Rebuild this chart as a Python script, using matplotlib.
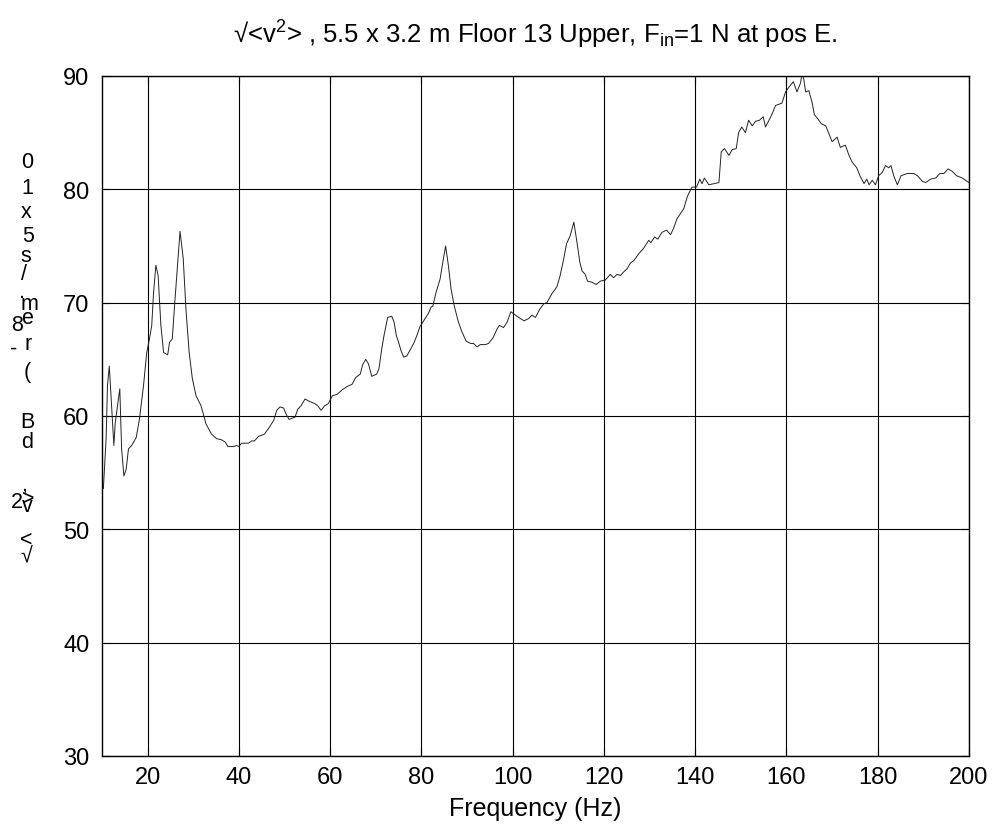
import matplotlib

matplotlib.use("Agg")
import matplotlib.pyplot as plt

plt.rcParams["font.family"] = ["Liberation Sans", "DejaVu Sans"]
plt.rcParams["mathtext.fontset"] = "custom"
plt.rcParams["mathtext.rm"] = "Liberation Sans"
plt.rcParams["mathtext.it"] = "Liberation Sans"

# frequency (Hz) and level (dB)
freq = [10.3, 10.9, 11.2, 11.6, 12.1, 12.6, 12.9, 13.4, 13.9, 14.3, 14.8, 15.3,
        15.8, 16.5, 17.5, 18.2, 19.1, 19.8, 20.4, 20.9, 21.3, 21.8, 22.3, 22.9,
        23.5, 24.4, 24.8, 25.4, 26.0, 27.1, 27.8, 28.4, 29.1, 29.8, 30.6, 31.7,
        32.8, 34.0, 35.1, 36.2, 37.0, 37.6, 38.8, 39.5, 40.0, 40.6, 42.1, 42.8,
        43.4, 44.3, 45.6, 46.5, 47.6, 48.3, 49.0, 49.8, 50.3, 51.0, 52.3, 52.9,
        53.6, 54.5, 55.4, 56.6, 57.3, 58.0, 58.8, 59.6, 60.5, 61.5, 62.6, 63.7,
        64.8, 65.6, 66.6, 67.1, 67.8, 68.4, 69.1, 70.2, 70.7, 71.3, 71.8, 72.6,
        73.5, 74.0, 74.5, 75.0, 75.5, 76.1, 76.8, 77.5, 78.3, 79.0, 79.7, 80.8,
        81.6, 82.1, 82.5, 83.2, 84.1, 84.7, 85.3, 85.9, 86.5, 87.2, 88.1, 88.9,
        89.8, 90.8, 91.4, 92.2, 92.9, 94.0, 94.7, 95.7, 96.6, 97.1, 98.0, 98.8,
        99.6, 100.6, 101.7, 102.5, 103.5, 104.2, 105.0, 105.9, 106.8, 107.5,
        108.6, 109.7, 110.4, 111.2, 111.8, 112.6, 113.4, 114.1, 114.7, 115.2,
        115.9, 116.4, 117.4, 118.3, 119.2, 120.3, 121.4, 122.1, 122.9, 123.6,
        124.3, 125.1, 125.8, 126.5, 127.6, 128.7, 129.8, 130.3, 131.1, 131.8,
        132.7, 133.7, 134.6, 135.3, 136.0, 137.5, 138.3, 139.3, 140.3, 141.0,
        141.5, 142.0, 143.0, 144.1, 145.2, 145.7, 146.4, 147.4, 148.1, 149.0,
        149.5, 150.2, 151.0, 151.7, 152.5, 153.2, 154.1, 154.9, 155.4, 156.3,
        156.9, 157.6, 158.3, 159.0, 159.8, 160.5, 161.5, 162.3, 163.1, 163.4,
        163.8, 164.2, 164.9, 165.6, 166.1, 166.9, 167.6, 168.6, 169.3, 170.0,
        171.1, 171.8, 172.9, 173.7, 174.4, 175.4, 176.1, 177.0, 177.6, 178.1,
        178.8, 179.5, 180.2, 181.0, 181.7, 182.4, 182.9, 183.5, 184.3, 185.1,
        186.5, 187.9, 188.7, 189.8, 190.5, 191.6, 192.7, 193.6, 194.5, 195.4,
        196.3, 197.3, 198.5, 200.0]
level = [53.6, 58.0, 62.7, 64.4, 60.9, 57.4, 59.4, 60.9, 62.4, 57.1, 54.7, 55.3,
         57.1, 57.4, 58.1, 59.7, 62.7, 65.6, 66.8, 68.0, 70.9, 73.3, 72.4, 68.0,
         65.6, 65.4, 66.5, 66.8, 70.3, 76.3, 73.9, 69.4, 65.6, 63.3, 61.8, 60.9,
         59.3, 58.4, 58.0, 57.9, 57.7, 57.3, 57.3, 57.4, 57.3, 57.6, 57.6, 57.8,
         57.8, 58.2, 58.4, 58.9, 59.6, 60.5, 60.8, 60.7, 60.2, 59.7, 59.9, 60.6,
         60.9, 61.5, 61.3, 61.1, 60.9, 60.5, 60.9, 61.1, 61.8, 61.9, 62.3, 62.6,
         62.8, 63.4, 63.7, 64.5, 65.0, 64.6, 63.5, 63.7, 64.2, 65.9, 67.1, 68.7,
         68.8, 68.3, 67.1, 66.5, 65.8, 65.2, 65.3, 65.8, 66.4, 67.1, 67.9, 68.6,
         69.1, 69.6, 69.7, 70.9, 72.1, 73.6, 75.0, 73.3, 71.2, 69.7, 68.3, 67.4,
         66.6, 66.4, 66.4, 66.1, 66.3, 66.3, 66.4, 66.9, 67.7, 68.0, 67.8, 68.3,
         69.2, 68.9, 68.6, 68.4, 68.6, 68.9, 68.7, 69.4, 69.9, 70.0,
         70.8, 71.4, 72.4, 73.9, 75.2, 75.9, 77.1, 75.3, 73.6, 72.8,
         72.5, 71.9, 71.8, 71.6, 71.9, 72.0, 72.5, 72.2, 72.5, 72.4,
         72.7, 73.0, 73.5, 73.7, 74.3, 74.8, 75.5, 75.3, 75.8, 75.6,
         76.2, 76.4, 76.0, 76.6, 77.4, 78.3, 79.4, 80.2, 80.2, 80.9,
         80.5, 81.0, 80.4, 80.5, 80.6, 83.3, 83.6, 83.0, 83.5, 83.6,
         85.0, 85.5, 85.0, 86.1, 85.6, 86.0, 86.1, 86.4, 85.5, 86.2,
         86.7, 87.4, 87.5, 87.6, 88.6, 89.0, 89.5, 88.6, 89.4, 90.3,
         89.7, 88.6, 88.7, 87.7, 86.6, 86.2, 85.8, 85.6, 84.9, 84.2,
         84.6, 83.7, 83.9, 83.0, 82.4, 81.9, 81.2, 80.5, 80.9, 80.4,
         80.8, 80.4, 81.2, 81.5, 82.1, 81.9, 82.1, 81.2, 80.4, 81.2,
         81.4, 81.4, 81.2, 80.7, 80.6, 80.9, 81.0, 81.4, 81.4, 81.8,
         81.6, 81.2, 81.0, 80.6]

xticks = list(range(20, 201, 20))
yticks = list(range(30, 91, 10))

FS = 17
W, H = 995, 828
fig = plt.figure(figsize=(W / 100, H / 100), dpi=100)
ax = fig.add_axes([102 / W, (H - 757) / H, 867 / W, 680 / H])

ax.plot(freq, level, color="#222222", lw=0.7)
ax.set_xlim(10, 200)
ax.set_ylim(30, 90)
ax.set_xticks(xticks)
ax.set_yticks(yticks)
ax.grid(True, color="black", lw=0.8, ls="-")
ax.tick_params(direction="in", length=6, width=0.8, top=True, right=True,
               labelsize=FS, colors="black")
ax.tick_params(axis="x", pad=7)
ax.tick_params(axis="y", pad=9)
for s in ax.spines.values():
    s.set_linewidth(1.0)

ax.set_xlabel("Frequency (Hz)", fontsize=18, labelpad=6)
ax.set_title(r"√<v$^2$> , 5.5 x 3.2 m Floor 13 Upper, F$_{\rm in}$=1 N at pos E.",
             fontsize=18.5, pad=24)

# broken vertical y-label: characters stacked one above another
ylab = [("0", 27, 162), ("1", 27, 188), ("x", 26, 212), ("5", 28, 237),
        ("s", 26, 256), ("/", 24, 275), (".", 22, 293), ("m", 30, 305),
        ("e", 27, 319), ("8", 17, 326), ("r", 28, 345), ("-", 14, 349),
        ("(", 27, 373), ("B", 27, 423), ("d", 27, 442), (",", 24, 485),
        ("2", 17, 503), (">", 28, 499), ("v", 27, 507), ("<", 26, 540),
        ("√", 26, 557)]
for ch, px, py in ylab:
    fig.text(px / W, 1 - py / H, ch, fontsize=15.5, ha="center", va="center")

fig.savefig("out.png", dpi=100)
